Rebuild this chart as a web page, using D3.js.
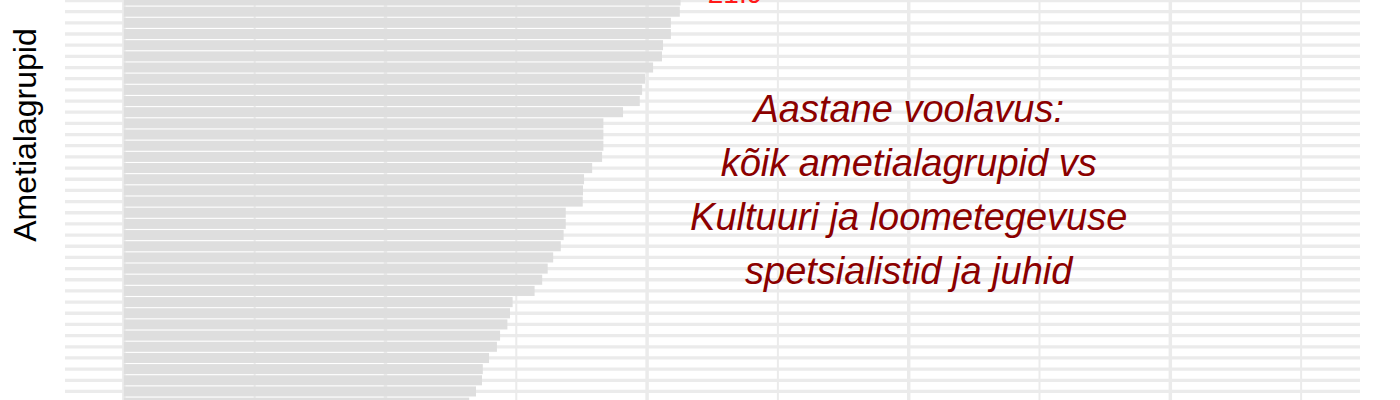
<!DOCTYPE html>
<html>
<head>
<meta charset="utf-8">
<script src="https://cdn.jsdelivr.net/npm/d3@7"></script>
<style>
  body { margin: 0; background: #fff; }
  svg { display: block; }
</style>
</head>
<body>
<div id="chart"></div>
<script>
height = 400
width = 1400

margin = ({ top: 0, right: 40, bottom: 0, left: 65 })

// highlighted group sits just above the visible crop
highlightName = "Kultuuri ja loometegevuse spetsialistid ja juhid"
highlightValue = 21.9

// the other groups (their names are not shown in the picture)
groups = d3.range(1, 38).map(i => "Ametialagrupp " + i)
values = [
    21.28, 21.25, 20.91, 20.91, 20.61, 20.57, 20.23, 19.92, 19.81, 19.72,
    19.08, 18.33, 18.33, 18.33, 18.28, 17.90, 17.59, 17.55, 17.54, 16.89,
    16.89, 16.81, 16.70, 16.41, 16.20, 15.99, 15.70, 14.86, 14.76, 14.66,
    14.38, 14.26, 13.96, 13.72, 13.69, 13.46, 13.20
]

majorBreaks = [0, 10, 20, 30, 40]
minorBreaks = [5, 15, 25, 35, 45]

noteLines = [
    "Aastane voolavus:",
    "kõik ametialagrupid vs",
    "Kultuuri ja loometegevuse",
    "spetsialistid ja juhid"
]

data = [{ name: highlightName, value: highlightValue, hl: true }]
    .concat(groups.map((g, i) => ({ name: g, value: values[i], hl: false })))

x = d3.scaleLinear([-2.25, 47.25], [margin.left, width - margin.right])

// one row is ~11.17px; the crop starts a bit above the first visible row
rowStep = 11.17
y0 = -16.25
y = d3.scaleBand(data.map(d => d.name), [y0, y0 + rowStep * data.length])
    .paddingInner(0.1)
    .paddingOuter(0.05)

const svg = d3.select("#chart").append("svg")
    .attr("width", width)
    .attr("height", height)
    .attr("viewBox", [0, 0, width, height])
    .style("font-family", "'Liberation Sans', Arial, sans-serif");

// grid
grid = g => g
    .attr("stroke", "#ebebeb")
    .call(g => g.append("g")
        .selectAll("line")
        .data(data)
        .join("line")
        .attr("stroke-width", 3.3)
        .attr("x1", margin.left)
        .attr("x2", width - margin.right)
        .attr("y1", d => y(d.name) + y.bandwidth() / 2)
        .attr("y2", d => y(d.name) + y.bandwidth() / 2))
    .call(g => g.append("g")
        .selectAll("line")
        .data(minorBreaks)
        .join("line")
        .attr("stroke-width", 2)
        .attr("x1", d => x(d))
        .attr("x2", d => x(d))
        .attr("y1", 0)
        .attr("y2", height))
    .call(g => g.append("g")
        .selectAll("line")
        .data(majorBreaks)
        .join("line")
        .attr("stroke-width", 3.5)
        .attr("x1", d => x(d))
        .attr("x2", d => x(d))
        .attr("y1", 0)
        .attr("y2", height))

svg.append("g").call(grid);

// bars
svg.append("g")
    .selectAll("rect")
    .data(data)
    .join("rect")
    .attr("x", x(0))
    .attr("y", d => y(d.name))
    .attr("width", d => x(d.value) - x(0))
    .attr("height", y.bandwidth())
    .attr("fill", d => d.hl ? "#e41a1c" : "#dedede");

// value label of the highlighted bar
svg.append("text")
    .attr("x", x(highlightValue) + 11)
    .attr("y", y(highlightName) + y.bandwidth() / 2 + 13.5)
    .attr("fill", "#ff1a1a")
    .attr("font-size", 28)
    .text(highlightValue.toFixed(1));

// y axis title
svg.append("text")
    .attr("transform", "translate(36,135) rotate(-90)")
    .attr("text-anchor", "middle")
    .attr("font-size", 32)
    .attr("fill", "#000")
    .text("Ametialagrupid");

// annotation
svg.append("text")
    .attr("text-anchor", "middle")
    .attr("font-size", 38)
    .attr("font-style", "italic")
    .attr("fill", "#8b0000")
    .selectAll("tspan")
    .data(noteLines)
    .join("tspan")
    .attr("x", x(30))
    .attr("y", (d, i) => 121.5 + i * 54.2)
    .text(d => d);
</script>
</body>
</html>
